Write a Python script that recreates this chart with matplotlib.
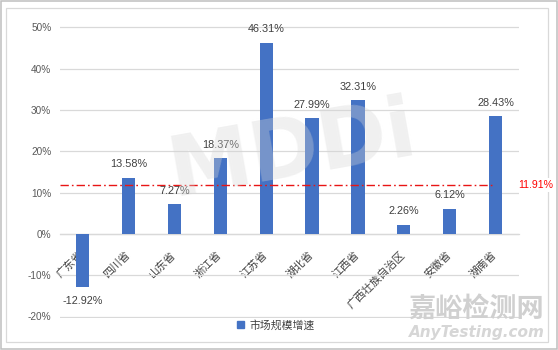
import matplotlib
matplotlib.use("Agg")
import matplotlib.pyplot as plt
import matplotlib.transforms as mtransforms
from matplotlib.patches import Rectangle
from matplotlib.ticker import FuncFormatter

plt.rcParams["font.family"] = ["Liberation Sans", "Noto Sans CJK SC", "DejaVu Sans"]

# --- data ---
provinces = ["广东省", "四川省", "山东省", "浙江省", "江苏省",
             "湖北省", "江西省", "广西壮族自治区", "安徽省", "湖南省"]
growth = [-12.92, 13.58, 7.27, 18.37, 46.31, 27.99, 32.31, 2.26, 6.12, 28.43]
average_growth = 11.91
series_name = "市场规模增速"
y_ticks = [-20, -10, 0, 10, 20, 30, 40, 50]

BAR_COLOR = "#4472C4"
GRID_COLOR = "#D9D9D9"
TEXT_COLOR = "#404040"

W, H = 558, 350
fig = plt.figure(figsize=(W / 100, H / 100), dpi=100)

# plot area in pixels: x 59.7..518.5, y(-20)=316.5 .. y(50)=27.3
pad = 0.3
px_per_unit = (316.5 - 27.3) / 70
top_px = 27.3 - pad * px_per_unit
bot_px = 316.5 + pad * px_per_unit
ax = fig.add_axes([59.7 / W, 1 - bot_px / H, (518.5 - 59.7) / W, (bot_px - top_px) / H])

x = range(len(provinces))
ax.bar(x, growth, width=0.29, color=BAR_COLOR, zorder=3)

ax.set_xlim(-0.5, len(provinces) - 0.5)
ax.set_ylim(-20 - pad, 50 + pad)
ax.set_yticks(y_ticks)
ax.yaxis.set_major_formatter(FuncFormatter(lambda v, _: f"{v:.0f}%"))
ax.grid(axis="y", color=GRID_COLOR, linewidth=0.9, zorder=0)
ax.set_axisbelow(True)

for s in ["top", "right", "left"]:
    ax.spines[s].set_visible(False)
ax.spines["bottom"].set_position(("data", 0))
ax.spines["bottom"].set_color(GRID_COLOR)
ax.spines["bottom"].set_linewidth(0.9)
ax.spines["bottom"].set_zorder(2)

ax.set_xticks(list(x))
ax.set_xticklabels(provinces, rotation=45, ha="right", va="top",
                   rotation_mode="default")
ax.tick_params(axis="x", length=0, pad=11, labelsize=7.8, colors=TEXT_COLOR)
ax.tick_params(axis="y", length=0, pad=6, labelsize=7.2, colors="#595959")
for lbl in ax.get_xticklabels():
    lbl.set_transform(lbl.get_transform() + mtransforms.ScaledTranslation(3 / 100, 0, fig.dpi_scale_trans))

# value labels
for i, v in enumerate(growth):
    ax.annotate(f"{v:.2f}%", (i, v), xytext=(0, 6 if v >= 0 else -6),
                textcoords="offset points", ha="center",
                va="bottom" if v >= 0 else "top",
                fontsize=7.8, color=TEXT_COLOR, zorder=5, annotation_clip=False)

# average line
ax.axhline(average_growth, xmin=0, xmax=0.944, color="#E81515",
           linewidth=1.0, dashes=(6, 2.2, 1.2, 2.2), zorder=4)
lbl_tr = mtransforms.blended_transform_factory(fig.transFigure, ax.transData)
ax.text(535.5 / W, average_growth, f"{average_growth:.2f}%", transform=lbl_tr,
        ha="center", va="center", fontsize=7.6, color="#FF0000", clip_on=False,
        zorder=6, bbox=dict(facecolor="white", edgecolor="none", pad=1.5))

# watermarks
ax.text((292 - 59.7) / (518.5 - 59.7), 0.57, "MDDi", transform=ax.transAxes,
        ha="center", va="center", fontsize=60, fontweight="bold",
        family="DejaVu Sans", color="#D6D6D6", alpha=0.35, rotation=10, zorder=7)
fig.text(476 / W, 1 - 309 / H, "嘉峪检测网", ha="center", va="center",
         fontsize=19.5, fontweight="bold", family="Noto Sans CJK SC",
         color="#D0D0D0", zorder=8)
fig.text(477 / W, 1 - 332 / H, "AnyTesting.com", ha="center", va="center",
         fontsize=11, fontstyle="italic", fontweight="bold", family="DejaVu Sans",
         color="#D6D6D6", zorder=8)

# legend
fig.legend(handles=[Rectangle((0, 0), 1, 1, color=BAR_COLOR)], labels=[series_name],
           loc="center", bbox_to_anchor=(276 / W, 1 - 325 / H), frameon=False,
           fontsize=7.8, handlelength=0.65, handleheight=0.65, handletextpad=0.5,
           labelcolor=TEXT_COLOR)

# chart frames
fig.patches.append(Rectangle((5.7 / W, 1 - 341.7 / H), (548.3 - 5.7) / W, (341.7 - 8.3) / H,
                             transform=fig.transFigure, fill=False, edgecolor="#D9D9D9",
                             linewidth=0.9, zorder=-1))
fig.patches.append(Rectangle((0.8 / W, 1 - 348.5 / H), (557 - 0.8) / W, (348.5 - 0.8) / H,
                             transform=fig.transFigure, fill=False, edgecolor="#BFBFBF",
                             linewidth=1.1, zorder=-1))

fig.savefig("out.png", dpi=100)
